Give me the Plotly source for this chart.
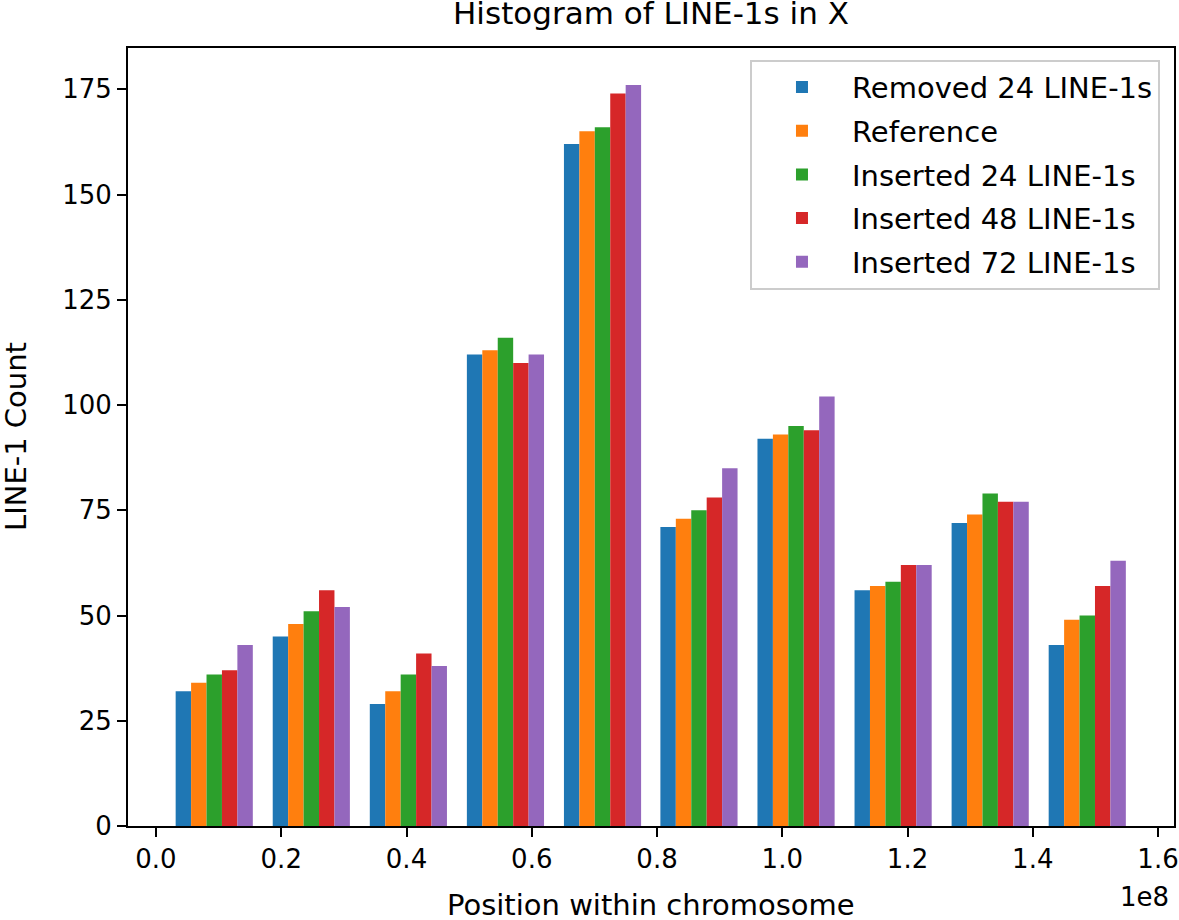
import plotly.graph_objects as go

# Bin centres (in units of 1e8 bp)
bin_centers_1e8 = [0.093, 0.248, 0.403, 0.558, 0.713, 0.867, 1.022, 1.177, 1.332, 1.487]

series_names = [
    "Removed 24 LINE-1s",
    "Reference",
    "Inserted 24 LINE-1s",
    "Inserted 48 LINE-1s",
    "Inserted 72 LINE-1s",
]

removed_24 = [32, 45, 29, 112, 162, 71, 92, 56, 72, 43]
reference = [34, 48, 32, 113, 165, 73, 93, 57, 74, 49]
inserted_24 = [36, 51, 36, 116, 166, 75, 95, 58, 79, 50]
inserted_48 = [37, 56, 41, 110, 174, 78, 94, 62, 77, 57]
inserted_72 = [43, 52, 38, 112, 176, 85, 102, 62, 77, 63]

series_values = [removed_24, reference, inserted_24, inserted_48, inserted_72]
colors = ["#1f77b4", "#ff7f0e", "#2ca02c", "#d62728", "#9467bd"]

x_tick_vals_1e8 = [0.0, 0.2, 0.4, 0.6, 0.8, 1.0, 1.2, 1.4, 1.6]
x_tick_text = ["0.0", "0.2", "0.4", "0.6", "0.8", "1.0", "1.2", "1.4", "1.6"]
y_tick_vals = [0, 25, 50, 75, 100, 125, 150, 175]

x_vals = [c * 1e8 for c in bin_centers_1e8]

FONT = "DejaVu Sans"

fig = go.Figure()
for i, (name, vals, col) in enumerate(zip(series_names, series_values, colors)):
    fig.add_trace(go.Bar(
        x=x_vals, y=vals, name=name, legendgroup=f"g{i}",
        marker=dict(color=col, line=dict(width=0)),
    ))

W, H = 1179, 920
L, R, T, B = 128, 5, 48, 94

fig.update_layout(
    template="none",
    width=W, height=H,
    margin=dict(l=L, r=R, t=T, b=B, pad=0),
    paper_bgcolor="white",
    plot_bgcolor="white",
    barmode="group",
    bargap=0.2,
    bargroupgap=0,
    font=dict(family=FONT, size=26, color="black"),
    title=dict(
        text="Histogram of LINE-1s in X",
        font=dict(family=FONT, size=31, color="black"),
        x=(L + (W - L - R) / 2) / W, xanchor="center",
        y=1 - 13 / H, yanchor="middle",
    ),
    xaxis=dict(
        range=[-0.0447e8, 1.6255e8],
        tickvals=[v * 1e8 for v in x_tick_vals_1e8],
        ticktext=x_tick_text,
        ticks="outside", ticklen=9, tickwidth=2, tickcolor="black",
        showline=True, linecolor="black", linewidth=2, mirror=True,
        showgrid=False, zeroline=False,
        tickfont=dict(family=FONT, size=26, color="black"),
    ),
    yaxis=dict(
        range=[0, 184.8],
        tickvals=y_tick_vals,
        ticks="outside", ticklen=9, tickwidth=2, tickcolor="black",
        showline=True, linecolor="black", linewidth=2, mirror=True,
        showgrid=False, zeroline=False,
        tickfont=dict(family=FONT, size=26, color="black"),
    ),
    legend=dict(
        x=0.9866, xanchor="right",
        y=0.985, yanchor="top",
        bgcolor="rgba(255,255,255,0.8)",
        bordercolor="#cccccc", borderwidth=2,
        font=dict(family=FONT, size=29, color="black"),
        tracegroupgap=3,
        itemwidth=90,
    ),
    showlegend=True,
)

fig.add_annotation(
    text="Position within chromosome",
    xref="paper", yref="paper", x=0.5, y=0,
    xanchor="center", yanchor="middle", yshift=-79,
    showarrow=False, font=dict(family=FONT, size=29, color="black"),
)
fig.add_annotation(
    text="LINE-1 Count",
    xref="paper", yref="paper", x=0, y=0.5,
    xanchor="center", yanchor="middle", xshift=-112,
    textangle=-90,
    showarrow=False, font=dict(family=FONT, size=29, color="black"),
)
fig.add_annotation(
    text="1e8",
    xref="paper", yref="paper", x=1, y=0,
    xanchor="right", yanchor="middle", yshift=-71, xshift=-3,
    showarrow=False, font=dict(family=FONT, size=26, color="black"),
)

fig.write_html(
    "out.html",
    config={"displayModeBar": False},
    post_script="document.body.style.margin='0';document.body.style.overflow='hidden';",
)
